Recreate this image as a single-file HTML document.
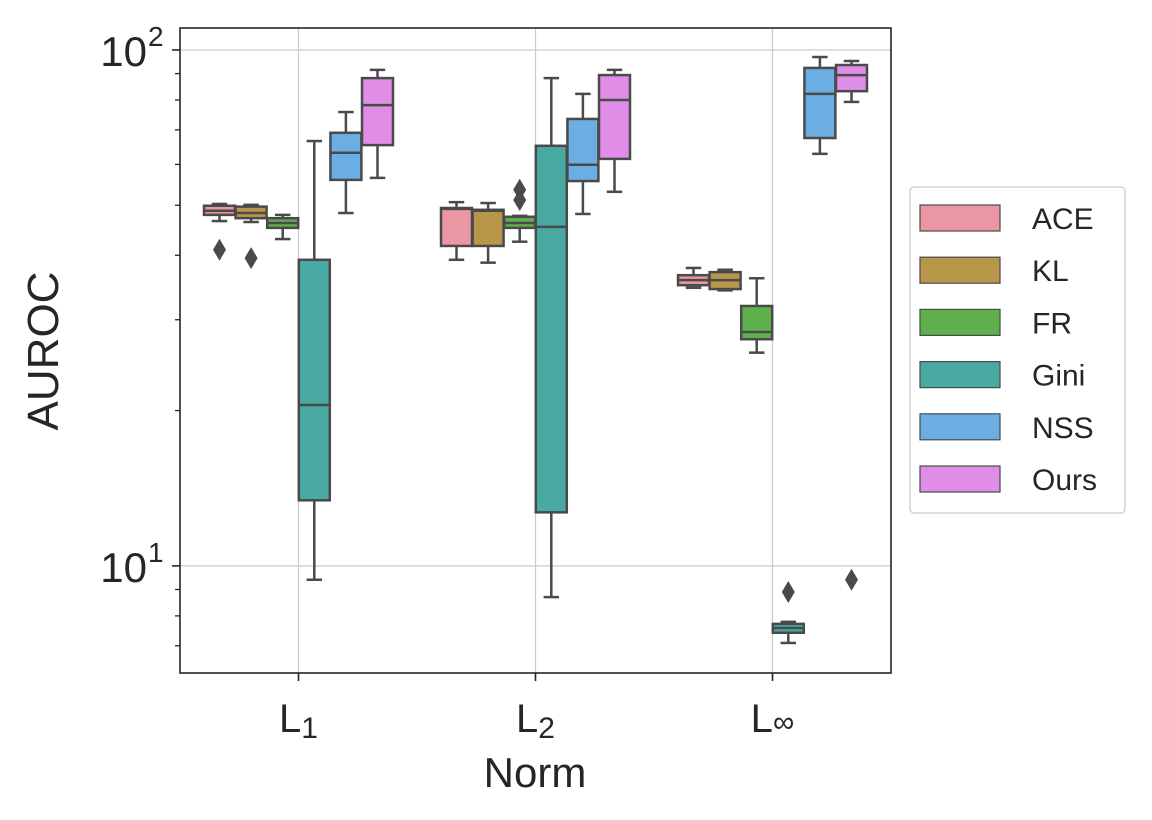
<!DOCTYPE html>
<html><head><meta charset="utf-8"><style>
body{margin:0;background:#fff;}
svg text{font-family:"Liberation Sans",Arial,sans-serif;fill:#262626;}
</style></head><body>
<svg width="1152" height="815" viewBox="0 0 1152 815">
<g id="grid"></g>
<g id="boxes"></g>
<rect x="180" y="28" width="711" height="645" fill="none" stroke="#262626" stroke-width="1.6"/>
<g id="axes"></g>
<text x="58" y="351" font-size="44" text-anchor="middle" transform="rotate(-90 58 351)">AUROC</text>
<text x="535" y="787" font-size="42" text-anchor="middle">Norm</text>
<g id="legend"></g>
</svg>
<script>
const categories=["L1","L2","L∞"];
const catLabels=[["L","1"],["L","2"],["L","∞"]];
const series=["ACE","KL","FR","Gini","NSS","Ours"];
const colors=["#ea96a3","#b8974a","#5fb14d","#49aaa4","#6aaee3","#e08de8"];
// each stat: [whislo, q1, median, q3, whishi] per category
const ACE=[[46.6,47.9,48.8,49.9,50.3],[39.2,41.7,49.2,49.4,50.7],[34.6,35.0,35.8,36.6,37.8]];
const KL=[[46.4,47.2,48.3,49.7,50.1],[38.7,41.7,48.8,49.0,50.5],[34.2,34.4,35.8,37.1,37.5]];
const FR=[[43.0,45.2,46.2,47.2,47.9],[42.5,45.2,46.2,47.5,47.7],[25.9,27.5,28.4,31.9,36.1]];
const Gini=[[9.4,13.4,20.5,39.2,66.6],[8.7,12.7,45.4,65.2,88.2],[7.09,7.42,7.58,7.72,7.79]];
const NSS=[[48.3,56.0,63.2,69.1,75.8],[48.1,55.7,59.9,73.5,82.2],[62.9,67.5,82.2,92.3,96.9]];
const Ours=[[56.5,65.4,78.2,88.2,91.5],[53.1,61.5,80.0,89.4,91.5],[79.3,83.2,89.4,93.5,95.2]];
const outliers=[[41.0],[39.5],[],[],[],[]];
const outliersL2=[[],[],[53.6,51.2],[],[],[]];
const outliersLinf=[[],[],[],[8.9],[],[9.4]];
const allStats=[ACE,KL,FR,Gini,NSS,Ours];
const allOut=[outliers,outliersL2,outliersLinf];
const yMajor=[10,100];
const yMinor=[7,8,9,20,30,40,50,60,70,80,90];

const NS="http://www.w3.org/2000/svg";
const X0=180,X1=891,Y0=28,Y1=673;
const logMin=Math.log10(6.2),logMax=Math.log10(110.3);
function y(v){return Y1-(Math.log10(v)-logMin)/(logMax-logMin)*(Y1-Y0);}
const band=(X1-X0)/categories.length;
function xc(i){return X0+band*(i+0.5);}
function mk(tag,attrs,parent){const e=document.createElementNS(NS,tag);for(const k in attrs)e.setAttribute(k,attrs[k]);parent.appendChild(e);return e;}
const grid=document.getElementById('grid'),boxes=document.getElementById('boxes'),axes=document.getElementById('axes'),legend=document.getElementById('legend');
categories.forEach((c,i)=>{const l=mk('line',{x1:xc(i),x2:xc(i),y1:Y0,y2:Y1,stroke:'#cccccc','stroke-width':1.3},grid);


const t=mk('line',{x1:xc(i),x2:xc(i),y1:Y1,y2:Y1+8,stroke:'#262626','stroke-width':1.6},axes);


const tx=mk('text',{x:xc(i),y:732,'font-size':40,'text-anchor':'middle'},axes);


tx.textContent=catLabels[i][0];
const sub=document.createElementNS(NS,'tspan');sub.setAttribute('font-size',30);sub.setAttribute('dy',catLabels[i][1]==="∞"?0:6);sub.textContent=catLabels[i][1];tx.appendChild(sub);});
yMajor.forEach(v=>{const l=mk('line',{x1:X0,x2:X1,y1:y(v),y2:y(v),stroke:'#cccccc','stroke-width':1.3},grid);


const t=mk('line',{x1:X0-8,x2:X0,y1:y(v),y2:y(v),stroke:'#262626','stroke-width':1.6},axes);


const tx=mk('text',{x:X0-33,y:y(v)+16,'font-size':42,'text-anchor':'end'},axes);


tx.textContent="10";
const sup=mk('text',{x:X0-32,y:y(v)-4,'font-size':28,'text-anchor':'start'},axes);


sup.textContent=String(Math.round(Math.log10(v)));});
yMinor.forEach(v=>{const t=mk('line',{x1:X0-5,x2:X0,y1:y(v),y2:y(v),stroke:'#262626','stroke-width':1.3},axes);

});
const gw=band*0.8,bw=gw/series.length,LC='#4a4a4a';
series.forEach((s,j)=>{categories.forEach((c,i)=>{
 const st=allStats[j][i];const cx=xc(i)-gw/2+bw*(j+0.5);const w=bw*0.98;
 const g=mk('g',{},boxes);
 
 
 mk('line',{x1:cx,x2:cx,y1:y(st[0]),y2:y(st[1]),stroke:LC,'stroke-width':2.5},g);
 mk('line',{x1:cx,x2:cx,y1:y(st[3]),y2:y(st[4]),stroke:LC,'stroke-width':2.5},g);
 mk('line',{x1:cx-w/4,x2:cx+w/4,y1:y(st[0]),y2:y(st[0]),stroke:LC,'stroke-width':2.5},g);
 mk('line',{x1:cx-w/4,x2:cx+w/4,y1:y(st[4]),y2:y(st[4]),stroke:LC,'stroke-width':2.5},g);
 mk('rect',{x:cx-w/2,y:y(st[3]),width:w,height:y(st[1])-y(st[3]),fill:colors[j],stroke:LC,'stroke-width':2.5},g);
 mk('line',{x1:cx-w/2,x2:cx+w/2,y1:y(st[2]),y2:y(st[2]),stroke:LC,'stroke-width':2.5},g);
 allOut[i][j].forEach(o=>{const d=mk('path',{d:`M${cx},${y(o)-11} L${cx+6.5},${y(o)} L${cx},${y(o)+11} L${cx-6.5},${y(o)} Z`,fill:LC},g);
 
 });
});});
mk('rect',{x:910,y:187,width:215,height:326,rx:4,fill:'#fff',stroke:'#cccccc','stroke-width':1.3},legend);
series.forEach((s,j)=>{const yy=218+j*52.2;
 const p=mk('rect',{x:920,y:yy-13,width:80,height:26,fill:colors[j],stroke:LC,'stroke-width':1.2},legend);
 
 
 const t=mk('text',{x:1032,y:yy+11,'font-size':30},legend);
 
 
 t.textContent=s;});
</script>
</body></html>
